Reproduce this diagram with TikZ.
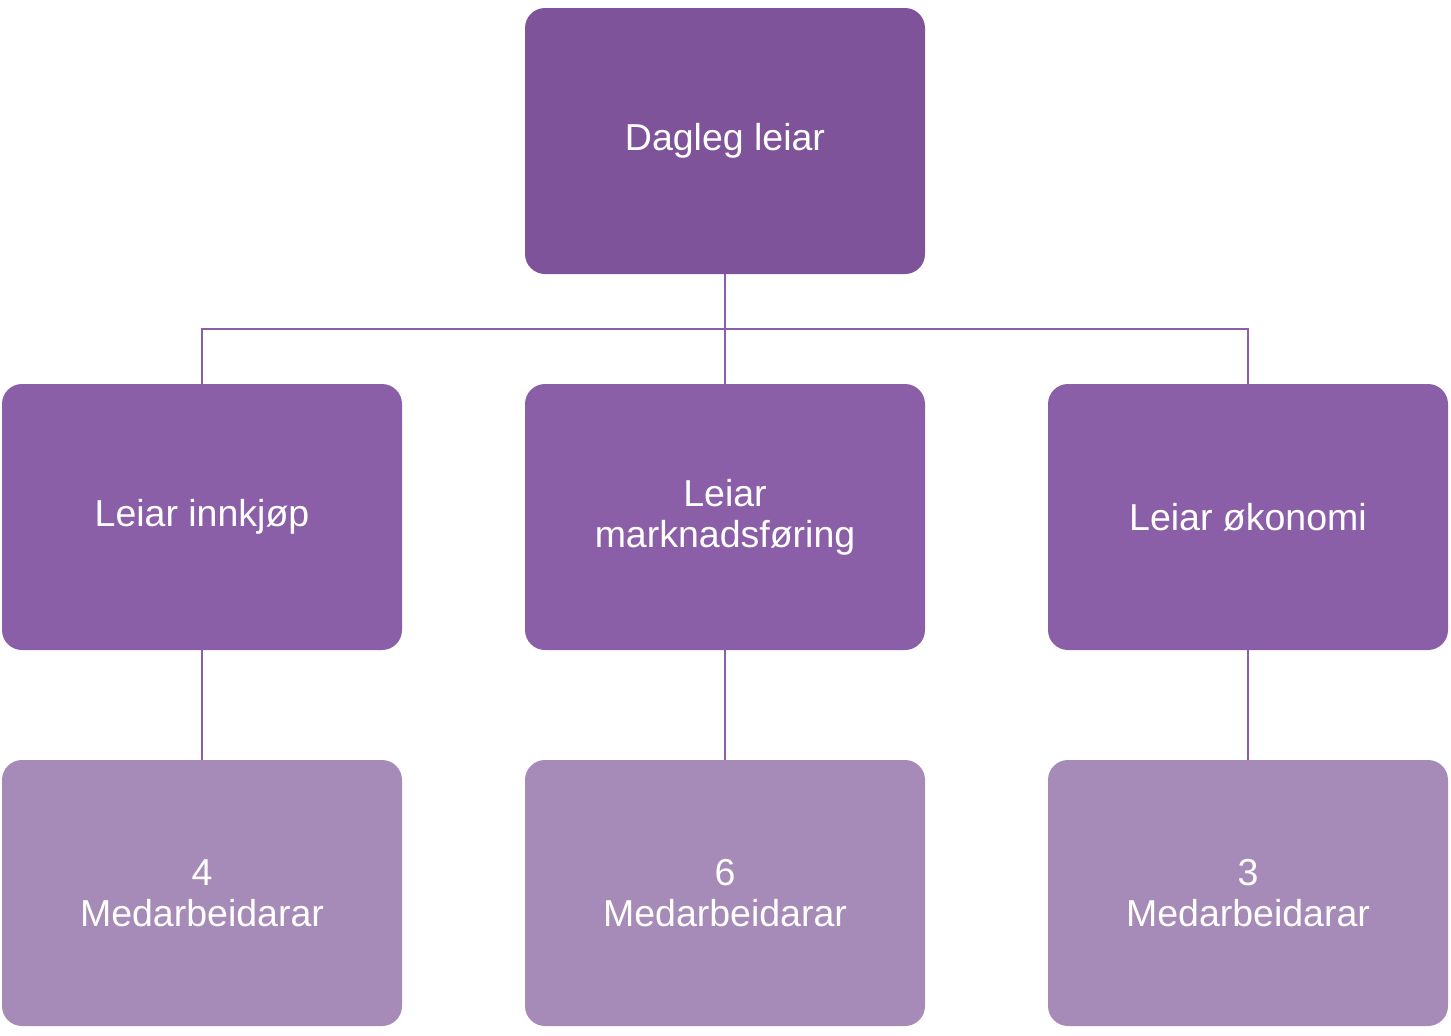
\documentclass[tikz,border=0pt]{standalone}
\usepackage{fontspec}
\setmainfont{Liberation Sans}
\definecolor{topc}{HTML}{7E5399}
\definecolor{midc}{HTML}{8B5FA7}
\definecolor{botc}{HTML}{A68AB7}
\definecolor{linec}{HTML}{8B5FA7}
\begin{document}
\begin{tikzpicture}[x=1pt,y=-1pt,
  box/.style={rounded corners=20pt, minimum width=400pt, minimum height=266pt, inner sep=0pt,
    text=white, align=center, font=\fontsize{37.5}{41}\selectfont},
  topbox/.style={box, fill=topc},
  midbox/.style={box, fill=midc},
  botbox/.style={box, fill=botc},
  conn/.style={draw=linec, line width=2pt}]
\useasboundingbox (0,0) rectangle (1451,1036);
\node[topbox] (top) at (725,141) {Dagleg leiar};
\node[midbox] (m1) at (202,517) {Leiar innkjøp};
\node[midbox] (m2) at (725,517) {Leiar\\marknadsføring};
\node[midbox] (m3) at (1248,517) {Leiar økonomi};
\node[botbox] (b1) at (202,893) {4\\Medarbeidarar};
\node[botbox] (b2) at (725,893) {6\\Medarbeidarar};
\node[botbox] (b3) at (1248,893) {3\\Medarbeidarar};
\coordinate (bus) at (725,329);
\draw[conn] (top.south) -- (m2.north);
\draw[conn] (top.south) |- (bus) -| (m1.north);
\draw[conn] (top.south) |- (bus) -| (m3.north);
\draw[conn] (m1.south) -- (b1.north);
\draw[conn] (m2.south) -- (b2.north);
\draw[conn] (m3.south) -- (b3.north);
\end{tikzpicture}
\end{document}
